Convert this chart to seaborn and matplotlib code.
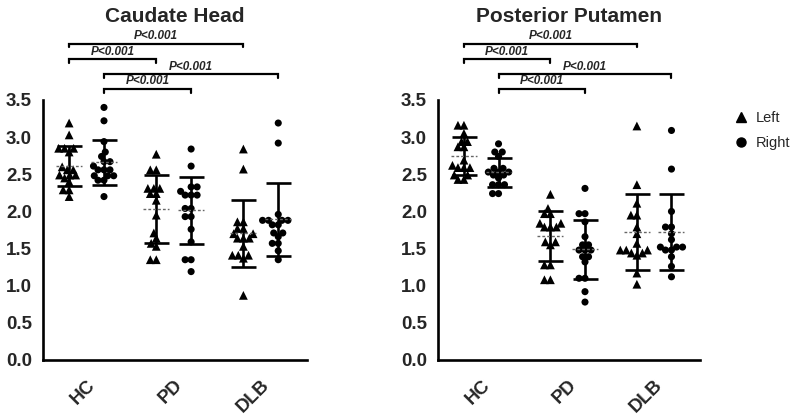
import numpy as np
import pandas as pd
import matplotlib
matplotlib.use("Agg")
import matplotlib.pyplot as plt
from matplotlib.lines import Line2D
import seaborn as sns

groups = ["HC", "PD", "DLB"]
sides = ["Left", "Right"]
titles = ["Caudate Head", "Posterior Putamen"]
yticks = [0.0, 0.5, 1.0, 1.5, 2.0, 2.5, 3.0, 3.5]
p_label = "P<0.001"

caud_HC_L = [3.19, 3.03, 2.85, 2.85, 2.85, 2.80, 2.60, 2.56, 2.56, 2.49, 2.49, 2.49, 2.45, 2.40, 2.29, 2.29, 2.20]
caud_HC_R = [3.40, 3.22, 2.94, 2.80, 2.74, 2.67, 2.67, 2.61, 2.56, 2.56, 2.56, 2.48, 2.48, 2.48, 2.42, 2.42, 2.20]
caud_PD_L = [2.77, 2.56, 2.56, 2.31, 2.31, 2.31, 2.24, 2.24, 2.15, 1.95, 1.71, 1.64, 1.57, 1.53, 1.35, 1.35]
caud_PD_R = [2.84, 2.61, 2.33, 2.33, 2.27, 2.22, 2.22, 2.22, 2.04, 2.04, 1.93, 1.93, 1.76, 1.59, 1.35, 1.35, 1.19]
caud_DLB_L = [2.84, 2.57, 1.86, 1.86, 1.77, 1.77, 1.70, 1.70, 1.64, 1.64, 1.64, 1.53, 1.41, 1.41, 1.41, 1.37, 0.87]
caud_DLB_R = [3.19, 2.92, 1.96, 1.88, 1.88, 1.88, 1.88, 1.82, 1.82, 1.71, 1.71, 1.66, 1.57, 1.57, 1.47, 1.35]

put_HC_L = [3.16, 3.16, 3.05, 2.94, 2.94, 2.87, 2.87, 2.69, 2.62, 2.59, 2.59, 2.59, 2.49, 2.49, 2.43, 2.43]
put_HC_R = [2.91, 2.80, 2.80, 2.74, 2.58, 2.58, 2.53, 2.53, 2.53, 2.49, 2.49, 2.45, 2.36, 2.36, 2.36, 2.24, 2.24]
put_PD_L = [2.23, 2.04, 1.97, 1.97, 1.84, 1.84, 1.79, 1.79, 1.79, 1.59, 1.59, 1.55, 1.28, 1.28, 1.08, 1.08]
put_PD_R = [2.31, 1.97, 1.97, 1.86, 1.66, 1.55, 1.55, 1.48, 1.48, 1.48, 1.39, 1.39, 1.32, 1.10, 1.10, 0.92, 0.78]
put_DLB_L = [3.15, 2.36, 2.11, 1.95, 1.95, 1.79, 1.70, 1.57, 1.48, 1.48, 1.48, 1.44, 1.44, 1.41, 1.17, 1.02]
put_DLB_R = [3.09, 2.57, 2.00, 1.79, 1.79, 1.70, 1.62, 1.52, 1.52, 1.52, 1.48, 1.48, 1.39, 1.26, 1.12]

# comparisons: (group1, side, group2)
comparisons = [("HC", "Left", "DLB"), ("HC", "Left", "PD"), ("HC", "Right", "DLB"), ("HC", "Right", "PD")]
bracket_y = [4.26, 4.05, 3.85, 3.65]

panels = [
    {("HC", "Left"): caud_HC_L, ("HC", "Right"): caud_HC_R,
     ("PD", "Left"): caud_PD_L, ("PD", "Right"): caud_PD_R,
     ("DLB", "Left"): caud_DLB_L, ("DLB", "Right"): caud_DLB_R},
    {("HC", "Left"): put_HC_L, ("HC", "Right"): put_HC_R,
     ("PD", "Left"): put_PD_L, ("PD", "Right"): put_PD_R,
     ("DLB", "Left"): put_DLB_L, ("DLB", "Right"): put_DLB_R},
]

sns.set_style("white")
plt.rcParams["font.family"] = ["Liberation Sans", "DejaVu Sans"]

W, H = 794, 417
fig = plt.figure(figsize=(W / 100, H / 100), dpi=100)
ax_pos = [[43 / W, 57 / H, 264 / W, 260 / H], [438 / W, 57 / H, 262 / W, 260 / H]]
off = 0.2
markers = {"Left": "^", "Right": "o"}
layout_size = {"Left": 4.1, "Right": 4.1}   # spacing used for the swarm layout
final_area = {"Left": 40, "Right": 26}      # drawn marker area (pt^2)
swarm_cols = []

for pi, panel in enumerate(panels):
    ax = fig.add_axes(ax_pos[pi])
    rows = []
    for g in groups:
        for s in sides:
            for v in panel[(g, s)]:
                rows.append({"group": g, "side": s, "value": v})
    df = pd.DataFrame(rows)
    for s in sides:
        before = list(ax.collections)
        sns.swarmplot(data=df[df.side == s], x="group", y="value", hue="side",
                      order=groups, hue_order=sides, dodge=True,
                      palette={"Left": "black", "Right": "black"},
                      marker=markers[s], size=layout_size[s], linewidth=0,
                      legend=False, ax=ax, warn_thresh=1.0)
        for c in ax.collections:
            if c not in before:
                swarm_cols.append((c, final_area[s]))
    for gi, g in enumerate(groups):
        for si, s in enumerate(sides):
            vals = np.array(panel[(g, s)])
            m, sd = vals.mean(), vals.std(ddof=1)
            x = gi + (-off if si == 0 else off)
            ax.errorbar([x], [m], yerr=[sd], fmt="none", ecolor="black",
                        elinewidth=1.9, capsize=9, capthick=1.9, zorder=4)
            ax.hlines(m, x - 0.15, x + 0.15, colors="#666666", linestyles=(0, (2, 1.5)),
                      linewidth=1.0, zorder=5)
    # brackets
    for (g1, s, g2), by in zip(comparisons, bracket_y):
        d = -off if s == "Left" else off
        x1 = groups.index(g1) + d
        x2 = groups.index(g2) + d
        ax.plot([x1, x1, x2, x2], [by - 0.05, by, by, by - 0.05], color="black",
                lw=1.6, clip_on=False, solid_joinstyle="miter")
        ax.text((x1 + x2) / 2, by + 0.02, p_label, ha="center", va="bottom",
                fontsize=8.5, fontweight="bold", fontstyle="italic", clip_on=False)
    ax.set_xlim(-0.5, 2.53)
    ax.set_ylim(0, 3.5)
    ax.set_yticks(yticks)
    ax.set_yticklabels([f"{t:.1f}" for t in yticks], fontsize=13.5, fontweight="bold")
    ax.set_xticks(range(len(groups)))
    ax.set_xticklabels(groups, fontsize=13.5, fontweight="bold", rotation=45,
                       ha="right", rotation_mode="anchor")
    ax.set_xlabel("")
    ax.set_ylabel("")
    sns.despine(ax=ax)
    for sp in ["left", "bottom"]:
        ax.spines[sp].set_linewidth(1.9)
        ax.spines[sp].set_color("black")
    ax.tick_params(axis="both", direction="out", length=5, width=1.9, color="black", pad=3)
    ax.tick_params(axis="x", pad=7)
    cx = (ax_pos[pi][0] + ax_pos[pi][2] / 2)
    fig.text(cx, 1 - 16 / H, titles[pi], ha="center", va="center", fontsize=15,
             fontweight="bold")

# run the swarm layout once at the compact spacing, then keep it and enlarge markers
fig.canvas.draw()
for c, area in swarm_cols:
    if "draw" in c.__dict__:
        del c.draw
    c.set_sizes([area])

handles = [Line2D([], [], marker="^", color="black", linestyle="none", markersize=7),
           Line2D([], [], marker="o", color="black", linestyle="none", markersize=6.5)]
fig.legend(handles, sides, loc="center left", bbox_to_anchor=(734 / W, 1 - 130.5 / H),
           frameon=False, fontsize=10.5, handlelength=1.0, handletextpad=0.5,
           labelspacing=0.8, borderaxespad=0, borderpad=0)

fig.savefig("out.png", dpi=100)
